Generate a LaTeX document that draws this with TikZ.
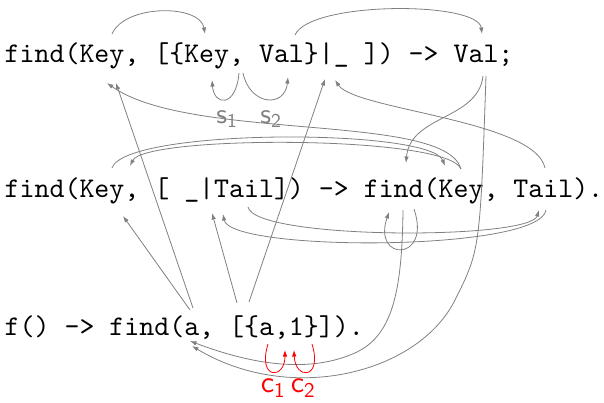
\documentclass[tikz,border=0pt]{standalone}
\usepackage{fontspec}
\newfontfamily\codefont[Extension=.otf]{lmmono10-regular}
\newfontfamily\labfont[Extension=.otf]{lmsans10-regular}
\usetikzlibrary{arrows.meta}
\definecolor{lk}{RGB}{128,128,128}
\definecolor{rd}{RGB}{255,0,0}
\begin{document}
\begin{tikzpicture}[x=1pt,y=-1pt,
  code/.style={font=\codefont\fontsize{28.5}{30}\selectfont, inner sep=0pt, anchor=base west},
  lnk/.style={draw=lk, line width=0.8pt, -{Latex[length=6.5pt,width=4.5pt]}},
  rlnk/.style={draw=rd, line width=0.8pt, -{Latex[length=6.5pt,width=4.5pt]}},
  lab/.style={font=\labfont\fontsize{28}{28}\selectfont, text=lk, inner sep=0pt},
  rlab/.style={font=\labfont\fontsize{30}{30}\selectfont, text=rd, inner sep=0pt}]
\useasboundingbox (0,0) rectangle (604,402);
% code lines
\node[code] (L1) at (4.5,62) {find(Key, [\{Key, Val\}|\_ ]) -> Val;};
\node[code] (L2) at (4.5,197) {find(Key, [ \_|Tail]) -> find(Key, Tail).};
\node[code] (L3) at (4.5,335) {f() -> find(a, [\{a,1\}]).};
% labels
\node[lab] (s1) at (227,119) {s\textsubscript{1}};
\node[lab] (s2) at (271,119) {s\textsubscript{2}};
\node[rlab] (c1) at (273,388) {c\textsubscript{1}};
\node[rlab] (c2) at (303,388) {c\textsubscript{2}};
% line 1 ends
\coordinate (k1t) at (112,34);
\coordinate (k2t) at (205,34);
\coordinate (v1t) at (295,35);
\coordinate (v2t) at (482,34);
\coordinate (sa) at (239,73);
\coordinate (sb) at (243,73);
\coordinate (k2b) at (212,80);
\coordinate (v1b) at (288,77);
\coordinate (k1b1) at (107,83);
\coordinate (k1b2) at (116,83);
\coordinate (p1) at (325,79);
\coordinate (p2) at (335,80);
\coordinate (v2b1) at (483,76);
\coordinate (v2b2) at (486,76);
% line 2 ends
\coordinate (hk1) at (112,168);
\coordinate (hk2) at (130,166);
\coordinate (bf) at (406,163);
\coordinate (bk1) at (445,166);
\coordinate (bk2) at (461,169);
\coordinate (bt) at (545,168);
\coordinate (hkb) at (123,216);
\coordinate (htb) at (212,213);
\coordinate (ta1) at (248,207);
\coordinate (ta2) at (223,214);
\coordinate (tb1) at (539,210);
\coordinate (tb2) at (546,210);
\coordinate (fr1) at (414,209);
\coordinate (fr2) at (389,212);
\coordinate (fr3) at (403,210);
% line 3 ends
\coordinate (a1) at (190,310);
\coordinate (a2) at (193,308);
\coordinate (lb1) at (237,303);
\coordinate (lb2) at (249,302);
\coordinate (ab1) at (190,341);
\coordinate (ab2) at (192,346);
\coordinate (c1s) at (268,344);
\coordinate (c1e) at (285,350);
\coordinate (c2s) at (312,344);
\coordinate (c2e) at (294,350);
% connectors line 1
\draw[lnk] (k1t) .. controls (125,4) and (200,4) .. (k2t);
\draw[lnk] (v1t) .. controls (310,1) and (478,1) .. (v2t);
\draw[lnk] (sa) .. controls (236,108) and (214,106) .. (k2b);
\draw[lnk] (sb) .. controls (250,106) and (285,108) .. (v1b);
% cross-line connectors
\draw[lnk] (bk2) .. controls (445,112) and (190,142) .. (k1b1);
\draw[lnk] (bt) .. controls (535,120) and (355,110) .. (p2);
\draw[lnk] (v2b1) .. controls (478,120) and (410,115) .. (bf);
\draw[lnk] (v2b2) .. controls (480,250) .. (455,300) .. controls (418,374) and (290,405) .. (ab2);
% line 2 arcs
\draw[lnk] (hk1) .. controls (125,128) and (430,128) .. (bk1);
\draw[lnk] (bk2) .. controls (448,135) and (145,135) .. (hk2);
\draw[lnk] (ta1) .. controls (255,240) and (530,240) .. (tb1);
\draw[lnk] (tb2) .. controls (540,252) and (230,252) .. (ta2);
\draw[lnk] (fr1) .. controls (432,262) and (372,262) .. (fr2);
\draw[lnk] (fr3) .. controls (402,300) and (390,340) .. (350,355) .. controls (300,375) and (240,360) .. (ab1);
% line 3 straight connectors
\draw[lnk] (a2) -- (k1b2);
\draw[lnk] (a1) -- (hkb);
\draw[lnk] (lb2) -- (p1);
\draw[lnk] (lb1) -- (htb);
% red loops
\draw[rlnk] (c1s) .. controls (257,380) and (285,380) .. (c1e);
\draw[rlnk] (c2s) .. controls (323,380) and (295,380) .. (c2e);
\end{tikzpicture}
\end{document}
